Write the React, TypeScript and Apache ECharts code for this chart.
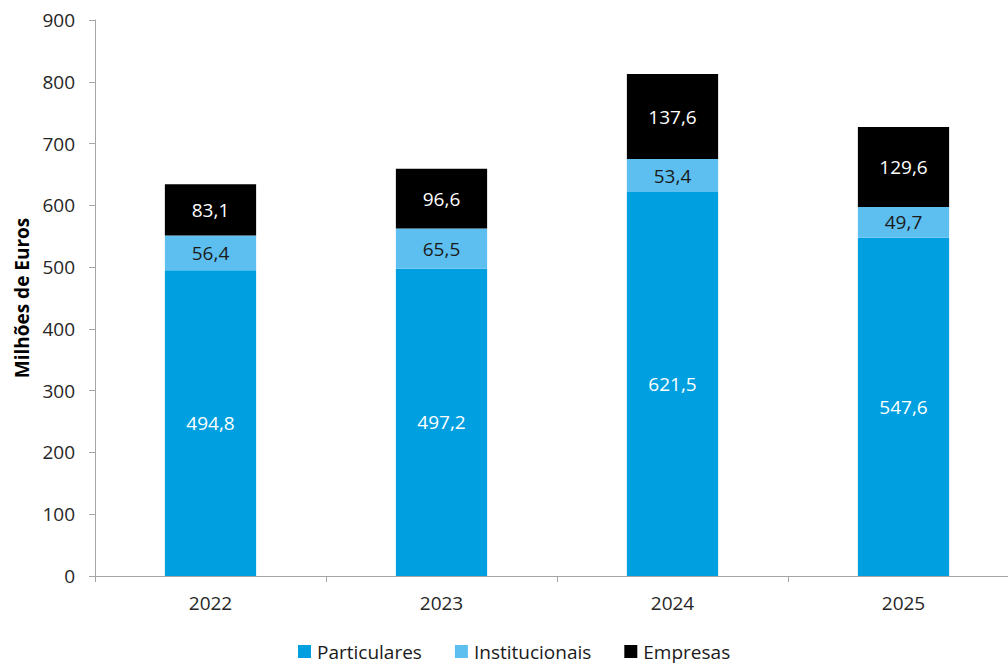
import React, { useEffect, useRef } from "react";
import * as echarts from "echarts";

const categories = ["2022", "2023", "2024", "2025"];
const particulares = [494.8, 497.2, 621.5, 547.6];
const institucionais = [56.4, 65.5, 53.4, 49.7];
const empresas = [83.1, 96.6, 137.6, 129.6];
const seriesNames = ["Particulares", "Institucionais", "Empresas"];

const FONT = "'Open Sans', 'Noto Sans', sans-serif";
const fmt = (p: any) => String(p.value.toFixed(1)).replace(".", ",");

export default function App() {
  const ref = useRef<HTMLDivElement>(null);
  useEffect(() => {
    document.body.style.margin = "0";
    const chart = echarts.init(ref.current!, null, { renderer: "svg" });
    const mk = (name: string, data: number[], color: string, labelColor: string) => ({
      name,
      type: "bar",
      stack: "total",
      data,
      barWidth: "39.5%",
      itemStyle: { color },
      label: {
        show: true,
        position: "inside",
        formatter: fmt,
        color: labelColor,
        fontFamily: FONT,
        fontSize: 19,
      },
    });
    chart.setOption({
      animation: false,
      textStyle: { fontFamily: FONT },
      grid: {
        left: 95,
        top: 20,
        width: 924,
        height: 556,
        containLabel: false,
        outerBoundsMode: "none",
      },
      legend: {
        data: seriesNames,
        left: 298,
        top: 642,
        padding: 0,
        icon: "rect",
        itemWidth: 13,
        itemHeight: 13,
        itemGap: 33,
        textStyle: { fontFamily: FONT, fontSize: 19, color: "#1a1a1a", padding: [0, 0, 0, 1] },
      },
      xAxis: {
        type: "category",
        data: categories,
        axisLine: { lineStyle: { color: "#a6a6a6", width: 1 } },
        axisTick: { show: true, alignWithLabel: false, length: 6, lineStyle: { color: "#a6a6a6" } },
        axisLabel: { fontFamily: FONT, fontSize: 19, color: "#262626", margin: 17 },
      },
      yAxis: {
        type: "value",
        min: 0,
        max: 900,
        interval: 100,
        name: "Milhões de Euros",
        nameLocation: "middle",
        nameGap: 64,
        nameRotate: 90,
        nameTextStyle: { fontFamily: FONT, fontSize: 19, fontWeight: "bold", color: "#000" },
        splitLine: { show: false },
        axisLine: { show: true, lineStyle: { color: "#a6a6a6", width: 1 } },
        axisTick: { show: true, length: 6, lineStyle: { color: "#a6a6a6" } },
        axisLabel: { fontFamily: FONT, fontSize: 19, color: "#262626", margin: 20 },
      },
      series: [
        mk(seriesNames[0], particulares, "#009fe0", "#ffffff"),
        mk(seriesNames[1], institucionais, "#5dbff0", "#1a1a1a"),
        mk(seriesNames[2], empresas, "#000000", "#ffffff"),
      ],
    });
    return () => chart.dispose();
  }, []);
  return <div ref={ref} style={{ width: 1008, height: 664 }} />;
}
